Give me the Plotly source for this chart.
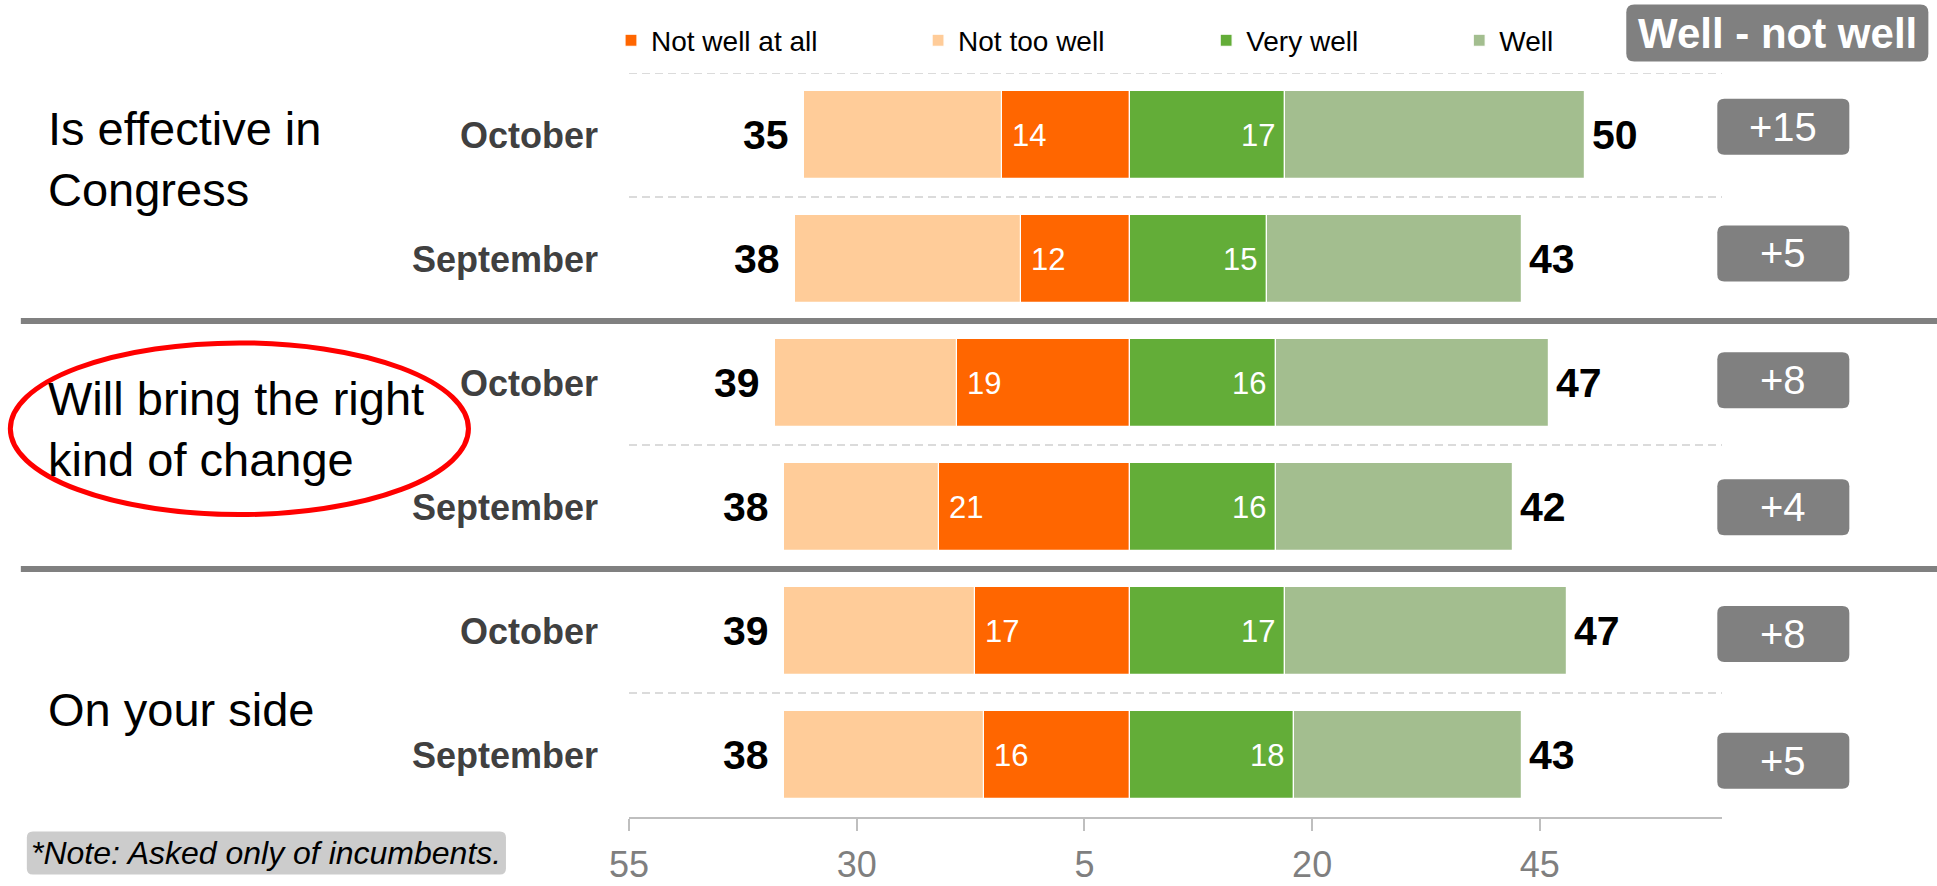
import plotly.graph_objects as go

# ---------------- data ----------------
questions = ["Is effective in<br>Congress", "Will bring the right<br>kind of change", "On your side"]
months = ["October", "September", "October", "September", "October", "September"]
not_well_at_all = [14, 12, 19, 21, 17, 16]
not_too_well = [21.8, 24.8, 20, 17, 21, 22]
very_well = [17, 15, 16, 16, 17, 18]
well = [33, 28, 30, 26, 31, 25]
total_not_well = [35, 38, 39, 38, 39, 38]
total_well = [50, 43, 47, 42, 47, 43]
net_labels = ["+15", "+5", "+8", "+4", "+8", "+5"]
tick_vals = [-55, -30, -5, 20, 45]
tick_text = ["55", "30", "5", "20", "45"]
series_names = ["Not well at all", "Not too well", "Very well", "Well"]
series_colors = ["#FF6600", "#FFCC99", "#63AD38", "#A3BE8F"]
header_text = "Well - not well"
note_text = "*Note: Asked only of incumbents."

FONT = "Liberation Sans, Arial, sans-serif"
W, H = 1937, 886
L, R, T, B = 629.0, 1721.7, 73.4, 816.6
PW, PH = R - L, B - T


def px(x):
    return (x - L) / PW


def py(y):
    return (B - y) / PH


def rrect(x0, y0, x1, y1, r):
    pts = [("M", x0 + r, y0), ("L", x1 - r, y0), ("Q", x1, y0, x1, y0 + r),
           ("L", x1, y1 - r), ("Q", x1, y1, x1 - r, y1), ("L", x0 + r, y1),
           ("Q", x0, y1, x0, y1 - r), ("L", x0, y0 + r), ("Q", x0, y0, x0 + r, y0)]
    s = ""
    for p in pts:
        cmd = p[0]
        coords = p[1:]
        parts = []
        for i in range(0, len(coords), 2):
            parts.append(f"{px(coords[i]):.5f},{py(coords[i+1]):.5f}")
        s += cmd + " " + " ".join(parts) + " "
    return s + "Z"


n = len(months)
ypos = [n - 1 - i for i in range(n)]

fig = go.Figure()
values = [[-v for v in not_well_at_all], [-v for v in not_too_well], very_well, well]
legend_x_px = [611, 918, 1206, 1459]
for k in range(4):
    lname = "legend" if k == 0 else f"legend{k+1}"
    fig.add_trace(go.Bar(
        y=ypos, x=values[k], orientation="h", name=series_names[k],
        marker=dict(color=series_colors[k], line=dict(color="white", width=1.2)),
        width=0.705, legend=lname, hoverinfo="skip"))

legend_common = dict(orientation="h", xanchor="left", yanchor="middle",
                     y=py(41), bgcolor="rgba(0,0,0,0)",
                     font=dict(family=FONT, size=28, color="#000000"))
layout_legends = {}
for k in range(4):
    lname = "legend" if k == 0 else f"legend{k+1}"
    layout_legends[lname] = dict(legend_common, x=px(legend_x_px[k]))

shapes = []
annotations = []

# dashed separators (top and within each group)
dash_ys = [ypos[0] + 0.5] + [ypos[2 * g] - 0.5 for g in range(3)]
for yv in dash_ys:
    shapes.append(dict(type="line", xref="paper", yref="y", x0=0, x1=1, y0=yv, y1=yv,
                       line=dict(color="#D0D0D0", width=1.5, dash="8px,5px"), layer="below"))
# solid group separators
for g in range(2):
    yv = ypos[2 * g + 1] - 0.5
    shapes.append(dict(type="line", xref="paper", yref="y", x0=px(21), x1=px(1937), y0=yv, y1=yv,
                       line=dict(color="#808080", width=6)))

# question labels
q_centers = [159.5, 429.5, 709]
for q, cy in zip(questions, q_centers):
    annotations.append(dict(text=q, xref="paper", yref="paper", x=px(46), y=py(cy),
                            xanchor="left", yanchor="middle", align="left", showarrow=False,
                            font=dict(family=FONT, size=47, color="#000000")))

# red ellipse
shapes.append(dict(type="circle", xref="paper", yref="paper",
                   x0=px(10.5), x1=px(468.5), y0=py(514.5), y1=py(343),
                   line=dict(color="#FF0000", width=5)))

# bar labels
for i in range(n):
    neg_end = -(not_well_at_all[i] + not_too_well[i])
    pos_end = very_well[i] + well[i]
    annotations.append(dict(text=str(round(not_well_at_all[i])), x=-not_well_at_all[i], y=ypos[i],
                            xref="x", yref="y", xanchor="left", yanchor="middle", xshift=8,
                            showarrow=False, font=dict(family=FONT, size=31, color="white")))
    annotations.append(dict(text=str(round(very_well[i])), x=very_well[i], y=ypos[i],
                            xref="x", yref="y", xanchor="right", yanchor="middle", xshift=-8,
                            showarrow=False, font=dict(family=FONT, size=31, color="white")))
    annotations.append(dict(text=str(total_not_well[i]), x=neg_end, y=ypos[i],
                            xref="x", yref="y", xanchor="right", yanchor="middle", xshift=-13,
                            showarrow=False,
                            font=dict(family=FONT, size=41, color="#000000", weight="bold")))
    annotations.append(dict(text=str(total_well[i]), x=pos_end, y=ypos[i],
                            xref="x", yref="y", xanchor="left", yanchor="middle", xshift=5,
                            showarrow=False,
                            font=dict(family=FONT, size=41, color="#000000", weight="bold")))
    # net boxes
    cy = 127 + 126.7 * i
    shapes.append(dict(type="path", xref="paper", yref="paper",
                       path=rrect(1717, cy - 28, 1849, cy + 28, 7),
                       fillcolor="#808080", line=dict(width=0)))
    annotations.append(dict(text=net_labels[i], xref="paper", yref="paper", x=px(1783), y=py(cy),
                            xanchor="center", yanchor="middle", showarrow=False,
                            font=dict(family=FONT, size=40, color="white")))

# header box
shapes.append(dict(type="path", xref="paper", yref="paper", path=rrect(1626, 5, 1928, 62, 8),
                   fillcolor="#808080", line=dict(width=0)))
annotations.append(dict(text=header_text, xref="paper", yref="paper", x=px(1777), y=py(34),
                        xanchor="center", yanchor="middle", showarrow=False,
                        font=dict(family=FONT, size=42, color="white", weight="bold")))

# note box
shapes.append(dict(type="path", xref="paper", yref="paper", path=rrect(27, 831, 506, 874, 6),
                   fillcolor="#CCCCCC", line=dict(width=0)))
annotations.append(dict(text="<i>" + note_text + "</i>", xref="paper", yref="paper",
                        x=px(266.5), y=py(852.5), xanchor="center", yanchor="middle",
                        showarrow=False, font=dict(family=FONT, size=32, color="#000000")))

fig.update_layout(
    width=W, height=H, autosize=False,
    margin=dict(l=L, r=W - R, t=T, b=H - B, pad=0, autoexpand=False),
    paper_bgcolor="white", plot_bgcolor="white",
    barmode="relative", bargap=0,
    showlegend=True,
    shapes=shapes, annotations=annotations,
    xaxis=dict(range=[-55, 65], tickvals=tick_vals, ticktext=tick_text, automargin=False,
               showgrid=False, zeroline=False, showline=True, linecolor="#BFBFBF", linewidth=2,
               ticks="outside", ticklen=12, tickwidth=2, tickcolor="#BFBFBF",
               ticklabelstandoff=3,
               tickfont=dict(family=FONT, size=36, color="#7F7F7F"), fixedrange=True),
    yaxis=dict(range=[-0.5, 5.5], tickvals=ypos, ticktext=months, showgrid=False,
               automargin=False,
               zeroline=False, showline=False, ticks="", ticklabelstandoff=30,
               tickfont=dict(family=FONT, size=36, color="#404040", weight="bold"),
               fixedrange=True),
    **layout_legends,
)

fig.write_html("out.html", config={"displayModeBar": False},
               post_script="document.body.style.margin='0';")
